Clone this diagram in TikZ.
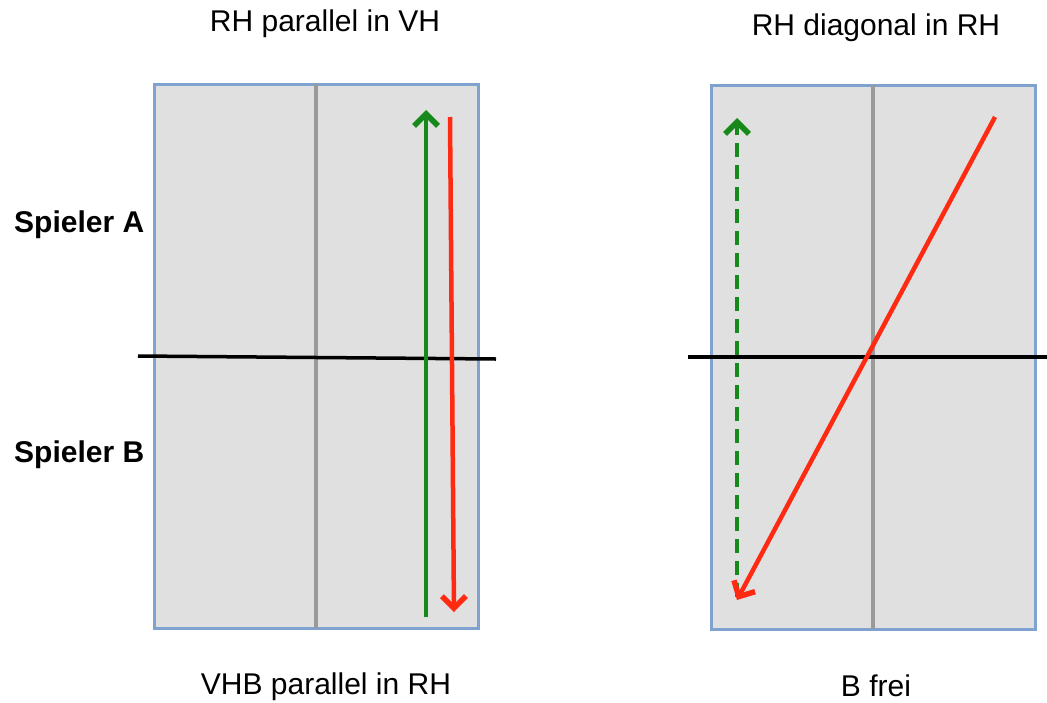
\documentclass[tikz,border=0pt]{standalone}
\usepackage{fontspec}
\setmainfont{Liberation Sans}
\usetikzlibrary{arrows.meta}
\definecolor{courtfill}{HTML}{E0E0E0}
\definecolor{courtedge}{HTML}{7FA3CE}
\definecolor{midline}{HTML}{9A9A9A}
\definecolor{arrgreen}{HTML}{16891A}
\definecolor{arrred}{HTML}{FF2A12}
\tikzset{
  court/.style={draw=courtedge, fill=courtfill, line width=3pt, minimum width=324pt, minimum height=544pt, inner sep=0pt, rectangle},
  centerline/.style={draw=midline, line width=3.5pt},
  netline/.style={draw=black, line width=3.5pt},
  shot/.style={line width=4.5pt, -{Straight Barb[length=12pt,width=24pt,line width=5.5pt]}},
  title/.style={font=\fontsize{30}{34}\selectfont, inner sep=0pt},
  player/.style={font=\fontsize{30}{34}\selectfont\bfseries, inner sep=0pt, anchor=west}
}
\begin{document}
\begin{tikzpicture}[x=1pt,y=-1pt]
\useasboundingbox (0,0) rectangle (1047,702);
% left court
\node[court] (courtL) at (316,356) {};
\coordinate (cLt) at (316,84);
\coordinate (cLb) at (316,628);
\draw[centerline] (cLt) -- (cLb);
\coordinate (nLa) at (138,356);
\coordinate (nLb) at (496,359);
\draw[netline] (nLa) -- (nLb);
\coordinate (gL1) at (426,617);
\coordinate (gL2) at (426,110);
\draw[shot, arrgreen] (gL1) -- (gL2);
\coordinate (rL1) at (450,117);
\coordinate (rL2) at (454,612);
\draw[shot, arrred] (rL1) -- (rL2);
% right court
\node[court] (courtR) at (873,357) {};
\coordinate (cRt) at (873,85);
\coordinate (cRb) at (873,629);
\draw[centerline] (cRt) -- (cRb);
\coordinate (nRa) at (688,357);
\coordinate (nRb) at (1047,357);
\draw[netline] (nRa) -- (nRb);
\coordinate (gR1) at (737,597);
\coordinate (gR2) at (737,118);
\draw[shot, arrgreen, dash pattern=on 14pt off 8pt] (gR1) -- (gR2);
\coordinate (rR1) at (995,117);
\coordinate (rR2) at (737,600);
\draw[shot, arrred] (rR1) -- (rR2);
% texts
\node[title] (t1) at (325,24) {RH parallel in VH};
\node[title] (t2) at (876,28) {RH diagonal in RH};
\node[title] (t3) at (326,687) {VHB parallel in RH};
\node[title] (t4) at (876,686) {B frei};
\node[player] (pA) at (14,225) {Spieler A};
\node[player] (pB) at (14,455) {Spieler B};
\end{tikzpicture}
\end{document}
